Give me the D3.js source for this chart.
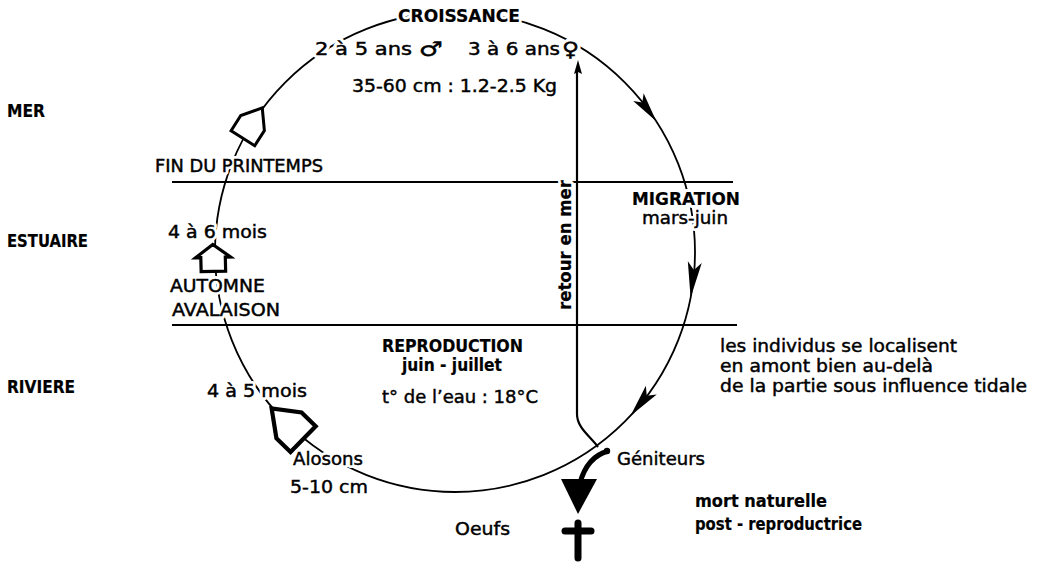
<!DOCTYPE html>
<html><head><meta charset="utf-8">
<script src="https://cdn.jsdelivr.net/npm/d3@7/dist/d3.min.js"></script>
<style>html,body{margin:0;padding:0;background:#fff}</style>
</head><body>
<svg id="c" width="1053" height="564"></svg>
<script>
// ---------- data ----------
const zoneLabels = ["MER", "ESTUAIRE", "RIVIERE"];
const growthTexts = ["CROISSANCE", "2 à 5 ans", "3 à 6 ans", "35-60 cm : 1.2-2.5 Kg"];
const sexSymbols = ["♂", "♀"];
const juvenileTexts = ["FIN DU PRINTEMPS", "4 à 6 mois", "AUTOMNE", "AVALAISON", "4 à 5 mois", "Alosons", "5-10 cm", "Oeufs"];
const migrationTexts = ["MIGRATION", "mars-juin"];
const reproTexts = ["REPRODUCTION", "juin - juillet", "t° de l’eau : 18°C"];
const adultTexts = ["retour en mer", "Géniteurs", "mort naturelle", "post - reproductrice"];
const noteLines = ["les individus se localisent", "en amont bien au-delà", "de la partie sous influence tidale"];
// stage positions around the cycle (degrees, clockwise from 3 o'clock)
const arrowAngles = [-33, 11, 43];
const houseAngles = [212.5, 178.6, 134.3];

// ---------- layout ----------
const svg = d3.select("#c");
const cx = 455, cy = 252, R = 240;
const ang = d3.scaleLinear().domain([0, 360]).range([0, 2 * Math.PI]);
const pt = (deg, r = R) => [cx + r * Math.cos(ang(deg)), cy + r * Math.sin(ang(deg))];
const FONT = "DejaVu Sans, Verdana, sans-serif";

const gLines = svg.append("g");
const gMarks = svg.append("g");
const gHalo = svg.append("g");
const gText = svg.append("g");

// cycle circle
gLines.append("circle").attr("cx", cx).attr("cy", cy).attr("r", R)
  .attr("fill", "none").attr("stroke", "#000").attr("stroke-width", 1.8);

// zone boundaries
const yZone = d3.scaleOrdinal().domain([1, 2]).range([182, 325]);
gLines.selectAll("line.zone").data([1, 2]).join("line")
  .attr("x1", 172).attr("x2", (d, i) => i ? 737 : 733)
  .attr("y1", d => yZone(d)).attr("y2", d => yZone(d))
  .attr("stroke", "#000").attr("stroke-width", 2.2);

// retour en mer line
const rp = d3.path();
rp.moveTo(577, 70); rp.lineTo(577, 414);
rp.bezierCurveTo(577, 428, 590, 436, 598, 447);
gLines.append("path").attr("d", rp.toString()).attr("fill", "none")
  .attr("stroke", "#000").attr("stroke-width", 2.2);
gLines.append("path").attr("d", "M578,60 L582,74 L578,72 L574,74 Z").attr("fill", "#000");

// arrowheads on the cycle
const arrowDims = [[30, 13], [36, 14], [33, 14]];
arrowAngles.forEach((a, i) => {
  const [L, W] = arrowDims[i];
  const tip = pt(a);
  const back = pt(a - (L / R) * 180 / Math.PI);
  const dx = tip[0] - back[0], dy = tip[1] - back[1];
  const len = Math.hypot(dx, dy), ux = dx / len, uy = dy / len;
  const nx = -uy, ny = ux;
  const p = [
    tip,
    [back[0] + nx * W / 2, back[1] + ny * W / 2],
    [back[0] + ux * L * 0.22, back[1] + uy * L * 0.22],
    [back[0] - nx * W / 2, back[1] - ny * W / 2]
  ];
  gMarks.append("path").attr("d", d3.line()(p) + "Z").attr("fill", "#000");
});

// house-shaped arrows
const houseDims = [[36, 28, 0.5, 0.5, 3], [27, 35, 0.48, 0.35, 3.2], [44, 36, 0.55, 0.5, 4.2]];
houseAngles.forEach((a, i) => {
  const [L, W, roof, wall, sw] = houseDims[i];
  const c = pt(a, i === 1 ? 242 : R);
  const e = L / 2 - roof * L;
  const loc = [[L / 2, 0], [e, -W / 2], [e, -wall * W], [-L / 2, -wall * W], [-L / 2, wall * W], [e, wall * W], [e, W / 2]];
  gMarks.append("path").attr("d", d3.line()(loc) + "Z")
    .attr("transform", `translate(${c[0]},${c[1]}) rotate(${a + 90})`)
    .attr("fill", "#fff").attr("stroke", "#000").attr("stroke-width", sw)
    .attr("stroke-linejoin", "miter");
});

// géniteurs arrow + cross
gMarks.append("path").attr("d", "M608,451 Q587,457 580,483").attr("fill", "none")
  .attr("stroke", "#000").attr("stroke-width", 5);
gMarks.append("circle").attr("cx", 607).attr("cy", 451).attr("r", 3.2).attr("fill", "#000");
gMarks.append("path").attr("d", "M561,479 L597,479 L578,514 Z").attr("fill", "#000");
gMarks.append("line").attr("x1", 578).attr("x2", 578).attr("y1", 523).attr("y2", 558)
  .attr("stroke", "#000").attr("stroke-width", 7).attr("stroke-linecap", "round");
gMarks.append("line").attr("x1", 565).attr("x2", 591).attr("y1", 531).attr("y2", 531)
  .attr("stroke", "#000").attr("stroke-width", 7).attr("stroke-linecap", "round");

// ---------- texts ----------
const texts = [
  {t: growthTexts[0], x: 398, y: 22, w: 122, b: 1, s: 18},
  {t: growthTexts[1], x: 315, y: 55, w: 97, s: 18},
  {t: growthTexts[2], x: 468, y: 55, w: 92, s: 18},
  {t: growthTexts[3], x: 352, y: 92, w: 205, s: 18},
  {t: sexSymbols[0], x: 419, y: 56, w: 24, s: 20},
  {t: sexSymbols[1], x: 562, y: 56, w: 17, s: 20},
  {t: zoneLabels[0], x: 7, y: 117, w: 38, b: 1, s: 17},
  {t: zoneLabels[1], x: 7, y: 247, w: 81, b: 1, s: 17},
  {t: zoneLabels[2], x: 7, y: 393, w: 68, b: 1, s: 17},
  {t: juvenileTexts[0], x: 155, y: 172, w: 168, s: 17},
  {t: juvenileTexts[1], x: 168, y: 238, w: 99, s: 18},
  {t: juvenileTexts[2], x: 170, y: 292, w: 95, s: 18},
  {t: juvenileTexts[3], x: 172, y: 316, w: 108, s: 18},
  {t: juvenileTexts[4], x: 207, y: 397, w: 100, s: 18},
  {t: juvenileTexts[5], x: 293, y: 465, w: 70, s: 18},
  {t: juvenileTexts[6], x: 290, y: 493, w: 78, s: 18},
  {t: juvenileTexts[7], x: 455, y: 535, w: 55, s: 18},
  {t: migrationTexts[0], x: 632, y: 205, w: 108, b: 1, s: 17},
  {t: migrationTexts[1], x: 642, y: 224, w: 86, s: 18},
  {t: reproTexts[0], x: 382, y: 352, w: 141, b: 1, s: 17},
  {t: reproTexts[1], x: 402, y: 371, w: 100, b: 1, s: 18},
  {t: reproTexts[2], x: 382, y: 403, w: 156, s: 18},
  {t: adultTexts[1], x: 617, y: 465, w: 88, s: 18},
  {t: adultTexts[2], x: 695, y: 507, w: 132, b: 1, s: 18},
  {t: adultTexts[3], x: 695, y: 530, w: 167, b: 1, s: 18},
  {t: noteLines[0], x: 720, y: 352, w: 237, s: 18},
  {t: noteLines[1], x: 720, y: 372, w: 213, s: 18},
  {t: noteLines[2], x: 720, y: 392, w: 307, s: 18}
];

function styleText(sel) {
  return sel.attr("font-family", FONT).attr("font-size", d => d.s)
    .attr("font-weight", d => d.b ? "bold" : "normal")
    .attr("textLength", d => d.w).attr("lengthAdjust", "spacingAndGlyphs")
    .text(d => d.t);
}
const place = sel => sel.attr("x", d => d.x).attr("y", d => d.y);

// white halos that break the lines beneath the labels
place(styleText(gHalo.selectAll("text").data(texts).join("text")))
  .attr("fill", "#fff").attr("stroke", "#fff").attr("stroke-width", 6).attr("stroke-linejoin", "round");
// black labels
place(styleText(gText.selectAll("text").data(texts).join("text")))
  .attr("fill", "#000").attr("stroke", "#000").attr("stroke-width", d => d.b ? 0.2 : 0.45);

// rotated "retour en mer"
const rot = [{t: adultTexts[0], s: 17, b: 1, w: 130}];
styleText(gHalo.selectAll("text.rot").data(rot).join("text").attr("class", "rot"))
  .attr("transform", "translate(571,310) rotate(-90)")
  .attr("fill", "#fff").attr("stroke", "#fff").attr("stroke-width", 6).attr("stroke-linejoin", "round");
styleText(gText.selectAll("text.rot").data(rot).join("text").attr("class", "rot"))
  .attr("transform", "translate(571,310) rotate(-90)")
  .attr("fill", "#000").attr("stroke", "#000").attr("stroke-width", 0.2);
</script>
</body></html>
